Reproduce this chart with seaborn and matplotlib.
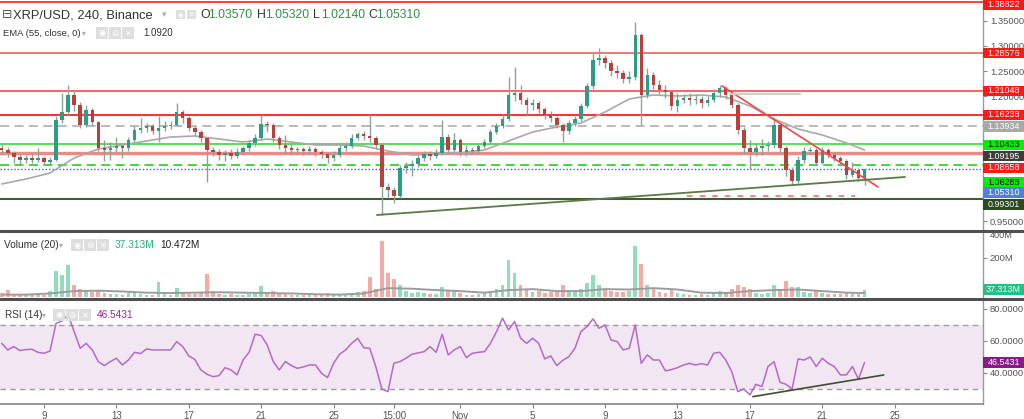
import numpy as np
import pandas as pd
import matplotlib
matplotlib.use("Agg")
import matplotlib.pyplot as plt
import matplotlib.dates as mdates
from matplotlib.patches import Rectangle
from matplotlib.lines import Line2D
import seaborn as sns

# ------------------------------------------------------------------ data
candle_start = "2021-10-06 16:00"      # 8h candles
first_open = 1.0960
closes = [
    1.092, 1.086, 1.078, 1.072, 1.076, 1.072, 1.076, 1.068,
    1.072, 1.152, 1.168, 1.202, 1.182, 1.142, 1.172, 1.148,
    1.096, 1.092, 1.096, 1.100, 1.096, 1.112, 1.132, 1.136,
    1.140, 1.130, 1.136, 1.140, 1.142, 1.168, 1.156, 1.136,
    1.128, 1.116, 1.092, 1.088, 1.082, 1.086, 1.080, 1.088,
    1.096, 1.106, 1.116, 1.144, 1.142, 1.116, 1.102, 1.096,
    1.092, 1.094, 1.090, 1.094, 1.088, 1.084, 1.076, 1.082,
    1.096, 1.100, 1.116, 1.124, 1.120, 1.116, 1.102, 1.018,
    1.012, 1.000, 1.056, 1.060, 1.064, 1.076, 1.084, 1.080,
    1.086, 1.118, 1.092, 1.112, 1.088, 1.092, 1.090, 1.100,
    1.108, 1.128, 1.140, 1.154, 1.202, 1.206, 1.192, 1.182,
    1.186, 1.174, 1.162, 1.156, 1.142, 1.130, 1.146, 1.154,
    1.180, 1.220, 1.272, 1.276, 1.266, 1.250, 1.246, 1.234,
    1.238, 1.322, 1.202, 1.242, 1.222, 1.212, 1.208, 1.180,
    1.192, 1.196, 1.192, 1.194, 1.186, 1.192, 1.206, 1.216,
    1.202, 1.182, 1.132, 1.096, 1.088, 1.096, 1.100, 1.102,
    1.142, 1.096, 1.052, 1.030, 1.072, 1.090, 1.092, 1.066,
    1.092, 1.082, 1.076, 1.070, 1.042, 1.052, 1.0357, 1.0531,
]
highs = [
    1.104, 1.098, 1.090, 1.084, 1.082, 1.086, 1.096, 1.080,
    1.078, 1.160, 1.206, 1.222, 1.210, 1.188, 1.182, 1.176,
    1.150, 1.112, 1.108, 1.118, 1.104, 1.118, 1.140, 1.156,
    1.146, 1.144, 1.160, 1.150, 1.150, 1.186, 1.172, 1.160,
    1.140, 1.132, 1.118, 1.098, 1.094, 1.092, 1.094, 1.096,
    1.100, 1.112, 1.124, 1.162, 1.150, 1.146, 1.120, 1.122,
    1.104, 1.098, 1.098, 1.100, 1.098, 1.092, 1.088, 1.090,
    1.102, 1.108, 1.124, 1.128, 1.130, 1.162, 1.120, 1.106,
    1.026, 1.018, 1.062, 1.068, 1.072, 1.082, 1.090, 1.090,
    1.094, 1.152, 1.124, 1.126, 1.116, 1.102, 1.098, 1.106,
    1.114, 1.134, 1.146, 1.162, 1.238, 1.258, 1.222, 1.198,
    1.194, 1.190, 1.178, 1.170, 1.160, 1.146, 1.152, 1.160,
    1.186, 1.226, 1.286, 1.296, 1.282, 1.272, 1.262, 1.252,
    1.250, 1.348, 1.326, 1.256, 1.248, 1.232, 1.222, 1.212,
    1.206, 1.204, 1.206, 1.204, 1.200, 1.200, 1.214, 1.222,
    1.220, 1.206, 1.186, 1.138, 1.112, 1.104, 1.114, 1.110,
    1.158, 1.146, 1.100, 1.058, 1.080, 1.098, 1.098, 1.096,
    1.098, 1.096, 1.088, 1.080, 1.074, 1.068, 1.056, 1.0532,
]
lows = [
    1.084, 1.078, 1.066, 1.062, 1.066, 1.066, 1.068, 1.062,
    1.064, 1.070, 1.146, 1.162, 1.170, 1.136, 1.138, 1.140,
    1.090, 1.070, 1.072, 1.088, 1.076, 1.090, 1.108, 1.126,
    1.128, 1.124, 1.108, 1.130, 1.134, 1.140, 1.146, 1.130,
    1.122, 1.108, 1.028, 1.080, 1.072, 1.070, 1.074, 1.076,
    1.082, 1.090, 1.100, 1.112, 1.128, 1.108, 1.094, 1.084,
    1.082, 1.084, 1.082, 1.086, 1.080, 1.076, 1.066, 1.070,
    1.078, 1.090, 1.096, 1.112, 1.112, 1.108, 1.094, 0.962,
    0.996, 0.986, 0.996, 1.046, 1.040, 1.058, 1.070, 1.072,
    1.076, 1.082, 1.084, 1.088, 1.080, 1.080, 1.084, 1.086,
    1.096, 1.104, 1.124, 1.136, 1.150, 1.190, 1.184, 1.160,
    1.172, 1.166, 1.154, 1.148, 1.136, 1.108, 1.124, 1.140,
    1.150, 1.176, 1.214, 1.262, 1.256, 1.240, 1.236, 1.226,
    1.226, 1.232, 1.142, 1.196, 1.214, 1.204, 1.196, 1.172,
    1.168, 1.186, 1.182, 1.184, 1.176, 1.180, 1.188, 1.198,
    1.194, 1.176, 1.124, 1.084, 1.054, 1.080, 1.082, 1.090,
    1.096, 1.088, 1.040, 1.022, 1.026, 1.066, 1.084, 1.062,
    1.064, 1.076, 1.070, 1.062, 1.034, 1.038, 1.030, 1.0214,
]
volumes_m = [
    20, 35, 15, 10, 12, 8, 10, 12,
    30, 130, 110, 160, 60, 40, 30, 25,
    30, 20, 15, 15, 12, 20, 25, 15,
    10, 12, 75, 15, 12, 45, 25, 15,
    15, 20, 115, 30, 15, 12, 15, 12,
    12, 15, 20, 55, 20, 30, 20, 15,
    12, 10, 10, 12, 10, 12, 18, 15,
    12, 15, 20, 25, 30, 100, 40, 286,
    120, 90, 60, 30, 20, 25, 20, 15,
    15, 50, 30, 35, 20, 12, 10, 15,
    20, 25, 40, 60, 190, 120, 60, 40,
    25, 30, 20, 25, 30, 60, 30, 25,
    40, 70, 110, 60, 40, 30, 25, 25,
    30, 260, 170, 60, 40, 25, 20, 40,
    20, 15, 12, 12, 15, 12, 20, 30,
    25, 40, 60, 50, 40, 20, 15, 20,
    60, 40, 80, 50, 50, 25, 20, 30,
    20, 15, 15, 15, 20, 15, 15, 37.313,
]
rsi_values = [
    58.5, 54.4, 56.5, 54.0, 54.6, 54.8, 52.9, 52.3,
    53.7, 71.0, 72.5, 76.3, 65.8, 55.4, 58.5, 54.4,
    47.1, 44.6, 47.1, 49.2, 45.0, 48.1, 52.9, 52.1,
    55.0, 54.4, 54.4, 54.4, 54.4, 59.6, 56.5, 50.6,
    48.5, 41.9, 39.2, 37.7, 38.3, 43.3, 41.9, 38.8,
    48.1, 52.9, 64.2, 63.4, 57.5, 47.1, 41.9, 47.1,
    44.6, 42.9, 43.8, 45.0, 45.0, 39.8, 37.1, 46.0,
    51.7, 54.4, 58.5, 61.7, 55.8, 55.4, 44.0, 30.0,
    28.3, 46.1, 47.1, 49.2, 51.7, 52.5, 53.3, 56.5,
    52.9, 64.2, 51.3, 54.4, 56.5, 49.6, 52.3, 52.9,
    53.3, 58.5, 65.8, 74.2, 66.9, 72.1, 61.7, 58.5,
    61.7, 58.5, 48.8, 50.6, 44.6, 47.9, 50.2, 55.4,
    65.8, 69.0, 73.8, 67.9, 70.0, 60.6, 59.6, 54.4,
    55.4, 70.0, 46.0, 51.3, 48.1, 48.1, 41.3, 42.1,
    43.3, 45.0, 46.0, 45.0, 45.8, 45.0, 52.3, 52.9,
    48.1, 40.8, 28.3, 30.0, 26.3, 32.9, 31.5, 44.0,
    47.1, 34.2, 32.9, 30.0, 48.8, 48.1, 50.0, 44.0,
    49.2, 46.0, 44.0, 38.8, 38.8, 44.0, 36.0, 46.5431,
]
sample_idx = list(range(0, 144, 4)) + [143]
ema_values = [
    1.024, 1.034, 1.046, 1.076, 1.094, 1.102, 1.110, 1.118, 1.120, 1.114,
    1.108, 1.114, 1.108, 1.102, 1.102, 1.100, 1.090, 1.082, 1.084, 1.086,
    1.092, 1.110, 1.128, 1.138, 1.146, 1.168, 1.194, 1.202, 1.200, 1.202,
    1.198, 1.180, 1.154, 1.134, 1.122, 1.106, 1.092,
]
vol_ma_m = [
    12, 12, 18, 30, 32, 28, 22, 20, 22, 24,
    22, 20, 18, 14, 12, 18, 45, 42, 35, 30,
    22, 35, 40, 30, 30, 40, 38, 45, 38, 22,
    20, 30, 35, 38, 30, 22, 20,
]

# horizontal levels drawn on the chart
level_prices = [1.38822, 1.28576, 1.21048, 1.16238, 1.13934, 1.10433,
                1.08658, 1.06288, 1.05310, 0.99301]
ema_last = 1.09195
# drawn trend lines (time, value)
red_trend = (["2021-11-15 11:00", "2021-11-24 02:00"], [1.220, 1.018])
green_trend = (["2021-10-27 09:30", "2021-11-25 13:40"], [0.962, 1.038])
red_dash = (["2021-11-13 12:00", "2021-11-22 19:00"], [1.000, 1.000])
grey_seg = (["2021-11-15 21:30", "2021-11-19 18:30"], [1.204, 1.204])
rsi_trend = (["2021-11-17 04:00", "2021-11-24 09:30"], [25.2, 38.75])

x_tick_dates = ["2021-10-09 00:00", "2021-10-13 00:00", "2021-10-17 00:00",
                "2021-10-21 00:00", "2021-10-25 00:00", "2021-10-28 08:00",
                "2021-11-01 00:00", "2021-11-05 00:00", "2021-11-09 00:00",
                "2021-11-13 00:00", "2021-11-17 00:00", "2021-11-21 00:00",
                "2021-11-25 00:00"]
x_tick_labels = ["9", "13", "17", "21", "25", "15:00", "Nov", "5", "9",
                 "13", "17", "21", "25"]
price_ticks = [0.95, 1.00, 1.05, 1.10, 1.15, 1.20, 1.25, 1.30, 1.35]
price_tick_labels = ["0.95000", "", "", "", "", "1.20000", "1.25000", "1.30000", "1.35000"]

# ------------------------------------------------------------------ style
sns.set_theme(style="white")
plt.rcParams["font.family"] = ["Liberation Sans", "DejaVu Sans"]
W, H = 1024, 419
fig = plt.figure(figsize=(W / 100, H / 100), dpi=100)
fig.patch.set_facecolor("white")


def fy(y):
    return 1 - y / H


def to_num(strings):
    return mdates.date2num(pd.to_datetime(strings, format="%Y-%m-%d %H:%M"))


ax_p = fig.add_axes([0, fy(229), 983 / W, 229 / H])
ax_v = fig.add_axes([0, fy(297), 983 / W, 65 / H], sharex=ax_p)
ax_r = fig.add_axes([0, fy(404), 983 / W, 104 / H], sharex=ax_p)

x0 = mdates.date2num(pd.Timestamp("2021-10-09"))
ax_p.set_xlim(x0 - 2.43, x0 + 51.88)
ax_p.set_ylim(0.934, 1.392)
ax_v.set_ylim(0, 330)
ax_r.set_ylim(20.6, 85.6)

for ax in (ax_p, ax_v, ax_r):
    ax.set_facecolor("white")
    for s in ("left", "top", "bottom"):
        ax.spines[s].set_visible(False)
    ax.spines["right"].set_color("#9a9a9a")
    ax.spines["right"].set_linewidth(1)
    ax.yaxis.tick_right()
    ax.tick_params(axis="y", direction="out", length=3, width=0.8, color="#888888",
                   labelsize=6.8, labelcolor="#555555", pad=2, right=True, left=False)
    ax.grid(False)
ax_r.spines["bottom"].set_visible(True)
ax_r.spines["bottom"].set_color("#8a8a8a")

# ------------------------------------------------------------------ candles
t = mdates.date2num(pd.date_range(candle_start, periods=len(closes), freq="8h"))
c = np.array(closes)
o = np.r_[first_open, c[:-1]]
hi = np.maximum(np.array(highs), np.maximum(o, c))
lo = np.minimum(np.array(lows), np.minimum(o, c))
up = c >= o
up_col, dn_col = "#2e9c85", "#b6423d"
ax_p.vlines(t, lo, hi, color="#8ea396", lw=1.0, zorder=3)
ax_p.bar(t, np.maximum(np.abs(c - o), 0.0018), bottom=np.minimum(o, c), width=0.19,
         color=np.where(up, up_col, dn_col), linewidth=0, zorder=4)

ema_df = pd.DataFrame({"t": t[sample_idx], "ema": ema_values})
sns.lineplot(data=ema_df, x="t", y="ema", ax=ax_p, color="#a9a9a9", lw=1.2, zorder=2)

level_styles = {
    1.38822: dict(color="#ff3030", lw=1.3, ls="-"),
    1.28576: dict(color="#f26a6a", lw=1.3, ls="-"),
    1.21048: dict(color="#f25a5a", lw=1.3, ls="-"),
    1.16238: dict(color="#ff2020", lw=1.3, ls="-"),
    1.13934: dict(color="#b4b4b4", lw=1.3, ls=(0, (5, 3))),
    1.10433: dict(color="#3ed63e", lw=1.2, ls="-"),
    1.08658: dict(color="#f08888", lw=2.4, ls="-"),
    1.06288: dict(color="#2ed52e", lw=1.3, ls=(0, (5, 3))),
    1.05310: dict(color="#3b5fd0", lw=1.0, ls=(0, (1, 1.5))),
    0.99301: dict(color="#3f5e2c", lw=1.5, ls="-"),
}
for p in level_prices:
    ax_p.axhline(p, zorder=1, **level_styles[p])


def seg(ax, data, **kw):
    df = pd.DataFrame({"t": to_num(data[0]), "v": data[1]})
    sns.lineplot(data=df, x="t", y="v", ax=ax, **kw)


seg(ax_p, red_trend, color="#f24848", lw=1.2, zorder=5)
seg(ax_p, green_trend, color="#5a7a48", lw=1.3, zorder=5)
seg(ax_p, red_dash, color="#f07a7a", lw=1.3, ls=(0, (3, 4)), zorder=5)
seg(ax_p, grey_seg, color="#cfcfcf", lw=1.6, zorder=5)

ax_p.set_yticks(price_ticks)
ax_p.set_yticklabels(price_tick_labels)

# ------------------------------------------------------------------ volume
v = np.array(volumes_m, dtype=float)
ax_v.bar(t, v, width=0.2, color=np.where(up, "#93dcbb", "#f6aaa4"), linewidth=0, zorder=2)
vma_df = pd.DataFrame({"t": t[sample_idx], "vma": vol_ma_m})
sns.lineplot(data=vma_df, x="t", y="vma", ax=ax_v, color="#9c9c9c", lw=1.4, zorder=3)
ax_v.set_yticks([200])
ax_v.set_yticklabels(["200M"])

# ------------------------------------------------------------------ RSI
ax_r.axhspan(30, 70, color="#f3e6f3", zorder=0, lw=0)
for lvl in (30, 70):
    ax_r.axhline(lvl, color="#9d9d9d", lw=1.0, ls=(0, (4, 3)), zorder=1)
rsi_df = pd.DataFrame({"t": t, "rsi": rsi_values})
sns.lineplot(data=rsi_df, x="t", y="rsi", ax=ax_r, color="#b26bc6", lw=1.1, zorder=3)
seg(ax_r, rsi_trend, color="#3f4f32", lw=1.2, zorder=4)
ax_r.set_yticks([40, 60, 80])
ax_r.set_yticklabels(["40.0000", "60.0000", "80.0000"])

for ax in (ax_p, ax_v, ax_r):
    ax.set_xlabel("")
    ax.set_ylabel("")
ax_r.set_xticks(to_num(x_tick_dates))
ax_r.set_xticklabels(x_tick_labels)
ax_r.tick_params(axis="x", direction="out", length=3, width=0.8, color="#888888",
                 labelsize=7, labelcolor="#555555", pad=2, bottom=True)
ax_p.tick_params(axis="x", labelbottom=False, bottom=False)
ax_v.tick_params(axis="x", labelbottom=False, bottom=False)


# ------------------------------------------------------------------ right labels
def right_label(ax, value, text, fc, tc, dy=0.0):
    yd = ax.transData.transform((ax.get_xlim()[0], value))[1] - dy
    fig.add_artist(Rectangle((983 / W, (yd - 5.2) / H), 41 / W, 10.4 / H,
                             transform=fig.transFigure, fc=fc, ec="none", zorder=10))
    fig.text(1003.5 / W, yd / H, text, ha="center", va="center", color=tc,
             fontsize=6.4, zorder=11)


red_lbl = "#ff1a1a"
price_labels = [
    (1.38822, red_lbl, "white", 3), (1.28576, red_lbl, "white", 0),
    (1.21048, red_lbl, "white", 0), (1.16238, red_lbl, "white", 0),
    (1.13934, "#a9a9a9", "white", 0), (1.10433, "#00ee00", "black", 1),
    (ema_last, "#3d3d3d", "white", 6), (1.08658, red_lbl, "white", 15),
    (1.06288, "#00ee00", "black", 18), (1.05310, "#4f7fe0", "white", 23),
    (0.99301, "#2c4a1e", "white", 5),
]
for val, fc, tc, dy in price_labels:
    right_label(ax_p, val, f"{val:.5f}", fc, tc, dy)
right_label(ax_v, volumes_m[-1], f"{volumes_m[-1]:.3f}M", "#22c084", "white", 0)
right_label(ax_r, rsi_values[-1], f"{rsi_values[-1]:.4f}", "#8a1a8a", "white", 0)
fig.text(990 / W, fy(235), "400M", ha="left", va="center", color="#555555", fontsize=6.6)

# ------------------------------------------------------------------ separators
for ys in (230.5, 298.5):
    fig.add_artist(Line2D([0, 1], [fy(ys), fy(ys)], transform=fig.transFigure,
                          color="#505050", lw=2.2, zorder=12))


# ------------------------------------------------------------------ header texts
def icons(x, y, n, size=12, gap=1):
    glyphs = ["◉", "⚙", "✕"][:n]
    for k, g in enumerate(glyphs):
        x_k = x + k * (size + gap)
        fig.add_artist(Rectangle((x_k / W, fy(y + size / 2)), size / W, size / H,
                                 transform=fig.transFigure, fc="#dedede", ec="none", zorder=13))
        fig.text((x_k + size / 2) / W, fy(y), g, ha="center", va="center", color="white",
                 fontsize=size * 0.5, family=["DejaVu Sans"], zorder=14)


fig.text(2 / W, fy(15), "⊟", ha="left", va="center", fontsize=9, color="#555555",
         family=["DejaVu Sans"])
fig.text(13 / W, fy(15), "XRP/USD, 240, Binance", ha="left", va="center",
         fontsize=9.3, color="#333333")
fig.text(162 / W, fy(15), "▾", ha="left", va="center", fontsize=6.5, color="#aaaaaa",
         family=["DejaVu Sans"])
icons(176, 15, 2, size=9, gap=2)
ohlc = [("O", "1.03570", 200), ("H", "1.05320", 257), ("L", "1.02140", 313), ("C", "1.05310", 368)]
for letter, val, xp in ohlc:
    fig.text(xp / W, fy(15), letter, ha="left", va="center", fontsize=8.8, color="#333333")
    fig.text((xp + 8) / W, fy(15), val, ha="left", va="center", fontsize=8.8, color="#3a8a4c")

fig.text(3 / W, fy(33), "EMA (55, close, 0)", ha="left", va="center", fontsize=6.8, color="#333333")
fig.text(82 / W, fy(33), "▾", ha="left", va="center", fontsize=5.5, color="#aaaaaa",
         family=["DejaVu Sans"])
icons(96, 33, 3)
fig.text(143 / W, fy(33), "1.0920", ha="left", va="center", fontsize=7, color="#333333")

fig.text(4 / W, fy(245), "Volume (20)", ha="left", va="center", fontsize=7.3, color="#333333")
fig.text(59 / W, fy(245), "▾", ha="left", va="center", fontsize=5.5, color="#aaaaaa",
         family=["DejaVu Sans"])
icons(71, 245, 3)
fig.text(115 / W, fy(245), "37.313M", ha="left", va="center", fontsize=7.3, color="#22b07a")
fig.text(160 / W, fy(245), "10.472M", ha="left", va="center", fontsize=7.3, color="#222222")

fig.text(5 / W, fy(315), "RSI (14)", ha="left", va="center", fontsize=7.2, color="#333333")
fig.text(42 / W, fy(315), "▾", ha="left", va="center", fontsize=5.5, color="#aaaaaa",
         family=["DejaVu Sans"])
icons(53, 315, 3)
fig.text(97 / W, fy(315), "46.5431", ha="left", va="center", fontsize=7.3, color="#9a2aa0")

fig.savefig("out.png", dpi=100, facecolor="white")
